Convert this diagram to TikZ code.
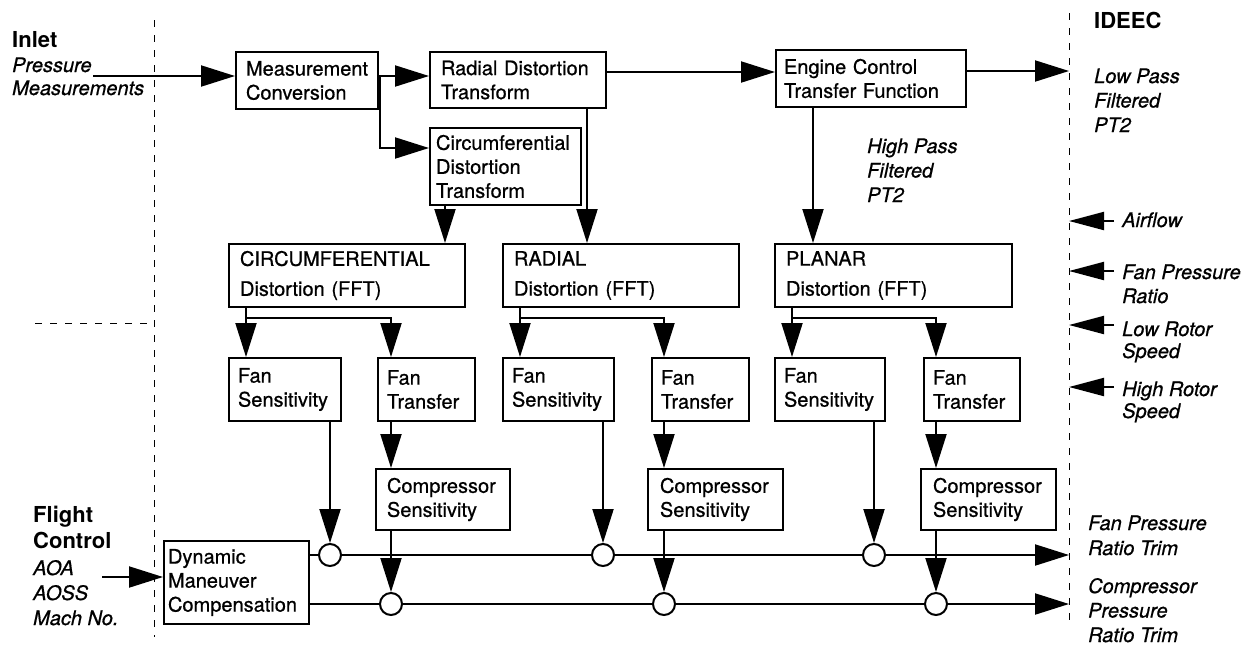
\documentclass[tikz,border=0pt]{standalone}
\usepackage{fontspec}
\setmainfont{TeX Gyre Heros}[UprightFeatures={FakeBold=0.7}, ItalicFeatures={FakeBold=0.7}]
\usetikzlibrary{arrows.meta}
\newcommand{\blk}[8]{\node[blk, minimum width=#4pt, minimum height=#5pt, text width=#6pt, inner xsep=#7pt, anchor=north west] (#1) at (#2,#3) {#8};}
\begin{document}
\begin{tikzpicture}[x=1pt,y=-1pt,
  blk/.style={draw, line width=2pt, inner ysep=0pt, align=left, font=\fontsize{20}{24}\selectfont},
  fftblk/.style={blk, font=\fontsize{20}{30}\selectfont},
  arr/.style={line width=2pt, -{Triangle[length=34pt,width=21pt]}},
  inarr/.style={line width=2pt, -{Triangle[length=35pt,width=18pt]}},
  ln/.style={line width=2pt},
  sum/.style={circle, draw, line width=2pt, fill=white, minimum size=22pt, inner sep=0pt},
  bnd/.style={line width=1pt, dash pattern=on 7pt off 8pt},
  hd/.style={font=\fontsize{22}{26}\selectfont\bfseries, anchor=base west, align=left, inner sep=0pt},
  lab/.style={font=\fontsize{20}{24.5}\selectfont\itshape, anchor=base west, align=left, inner sep=0pt}]
\fill[white] (0,0) rectangle (1257,646);
\useasboundingbox (0,0) rectangle (1257,646);

% boundaries
\draw[bnd] (154,20) -- (154,637);
\draw[bnd] (1069,13) -- (1069,623);
\draw[bnd] (35,323) -- (154,323);

% boxes
\blk{meas}{235}{51}{142}{57}{122}{10}{Measurement\\Conversion}
\blk{radtr}{429}{51}{176}{56}{154}{11}{Radial Distortion\\Transform}
\blk{circtr}{429}{127}{151}{77}{139}{6}{Circumferential\\Distortion\\Transform}
\blk{engine}{775}{49}{190}{57}{174}{8}{Engine Control\\Transfer Function}
\node[fftblk, minimum width=236pt, minimum height=63pt, text width=214pt, inner xsep=11pt, anchor=north west] (cfft) at (228,243) {CIRCUMFERENTIAL\\Distortion (FFT)};
\node[fftblk, minimum width=236pt, minimum height=63pt, text width=214pt, inner xsep=11pt, anchor=north west] (rfft) at (502,243) {RADIAL\\Distortion (FFT)};
\node[fftblk, minimum width=237pt, minimum height=63pt, text width=215pt, inner xsep=11pt, anchor=north west] (pfft) at (774,243) {PLANAR\\Distortion (FFT)};
\blk{fs1}{228}{357}{112}{63}{94}{9}{Fan\\Sensitivity}
\blk{ft1}{377}{357}{97}{63}{79}{9}{Fan\\Transfer}
\blk{fs2}{502}{357}{111}{63}{93}{9}{Fan\\Sensitivity}
\blk{ft2}{651}{357}{97}{63}{79}{9}{Fan\\Transfer}
\blk{fs3}{774}{357}{110}{63}{92}{9}{Fan\\Sensitivity}
\blk{ft3}{923}{357}{96}{63}{78}{9}{Fan\\Transfer}
\blk{cs1}{375}{468}{134}{61}{112}{11}{Compressor\\Sensitivity}
\blk{cs2}{647}{468}{135}{61}{111}{12}{Compressor\\Sensitivity}
\blk{cs3}{920}{468}{135}{61}{111}{12}{Compressor\\Sensitivity}
\blk{dyn}{163}{540}{145}{83}{137}{4}{Dynamic\\Maneuver\\Compensation}

% summing junctions
\node[sum] (ct1) at (330,555) {};
\node[sum] (ct2) at (603,555) {};
\node[sum] (ct3) at (874,555) {};
\node[sum] (cb1) at (391,604) {};
\node[sum] (cb2) at (664,604) {};
\node[sum] (cb3) at (936,604) {};

% helper coordinates
\coordinate (inl) at (93,76);
\coordinate (m1) at (380,76);
\coordinate (b2) at (0,148);
\coordinate (e1) at (0,72);
\coordinate (eo) at (1069,71);
\coordinate (k1) at (445,0);
\coordinate (k2) at (587,0);
\coordinate (k3) at (813,0);
\coordinate (j1) at (246,318);
\coordinate (j2) at (520,318);
\coordinate (j3) at (792,318);
\coordinate (fc) at (102,577);
\coordinate (o1) at (1069,555);
\coordinate (o2) at (1069,604);

% top connectors
\draw[arr] (inl) -- (meas.west |- inl);
\draw[arr] (meas.east |- m1) -- (radtr.west |- m1);
\draw[arr] (m1) |- (circtr.west |- b2);
\draw[arr] (radtr.east |- e1) -- (engine.west |- e1);
\draw[arr] (engine.east |- eo) -- (eo);
\draw[arr] (circtr.south -| k1) -- (cfft.north -| k1);
\draw[arr] (radtr.south -| k2) -- (rfft.north -| k2);
\draw[arr] (engine.south -| k3) -- (pfft.north -| k3);

% FFT branches
\draw[arr] (cfft.south -| j1) -- (fs1.north -| j1);
\draw[arr] (j1) -| (ft1.north -| cb1);
\draw[arr] (rfft.south -| j2) -- (fs2.north -| j2);
\draw[arr] (j2) -| (ft2.north -| cb2);
\draw[arr] (pfft.south -| j3) -- (fs3.north -| j3);
\draw[arr] (j3) -| (ft3.north -| cb3);

% fan sensitivity to top junctions
\draw[arr] (fs1.south -| ct1) -- (ct1);
\draw[arr] (fs2.south -| ct2) -- (ct2);
\draw[arr] (fs3.south -| ct3) -- (ct3);

% fan transfer to compressor sensitivity to bottom junctions
\draw[arr] (ft1.south -| cb1) -- (cs1.north -| cb1);
\draw[arr] (ft2.south -| cb2) -- (cs2.north -| cb2);
\draw[arr] (ft3.south -| cb3) -- (cs3.north -| cb3);
\draw[arr] (cs1.south -| cb1) -- (cb1);
\draw[arr] (cs2.south -| cb2) -- (cb2);
\draw[arr] (cs3.south -| cb3) -- (cb3);

% trim lines
\draw[ln] (dyn.east |- ct1) -- (ct1);
\draw[ln] (ct1) -- (ct2);
\draw[ln] (ct2) -- (ct3);
\draw[arr] (ct3) -- (o1);
\draw[ln] (dyn.east |- cb1) -- (cb1);
\draw[ln] (cb1) -- (cb2);
\draw[ln] (cb2) -- (cb3);
\draw[arr] (cb3) -- (o2);

% flight control input
\draw[arr] (fc) -- (dyn.west |- fc);

% IDEEC inputs
\coordinate (a1) at (1114,221);
\coordinate (a2) at (1114,271);
\coordinate (a3) at (1114,325);
\coordinate (a4) at (1114,387);
\draw[inarr] (a1) -- (a1 -| eo);
\draw[inarr] (a2) -- (a2 -| eo);
\draw[inarr] (a3) -- (a3 -| eo);
\draw[inarr] (a4) -- (a4 -| eo);

% labels (anchored at the baseline of the last line)
\node[hd] (inlet) at (12,47) {Inlet};
\node[lab, font=\fontsize{20}{23}\selectfont\itshape] (pm) at (12,95) {Pressure\\Measurements};
\node[hd] (ideec) at (1094,28) {IDEEC};
\node[lab] (lp) at (1094,132) {Low Pass\\Filtered\\PT2};
\node[lab] (hp) at (867,202) {High Pass\\Filtered\\PT2};
\node[lab] (af) at (1122,227) {Airflow};
\node[lab, font=\fontsize{20}{24}\selectfont\itshape] (fpr) at (1122,303) {Fan Pressure\\Ratio};
\node[lab, font=\fontsize{20}{22}\selectfont\itshape] (lrs) at (1122,358) {Low Rotor\\Speed};
\node[lab, font=\fontsize{20}{22}\selectfont\itshape] (hrs) at (1122,418) {High Rotor\\Speed};
\node[hd] (flc) at (33,548) {Flight\\Control};
\node[lab, font=\fontsize{20}{25}\selectfont\itshape] (aoa) at (33,625) {AOA\\AOSS\\Mach No.};
\node[lab, font=\fontsize{20}{25}\selectfont\itshape] (fprt) at (1088,555) {Fan Pressure\\Ratio Trim};
\node[lab, font=\fontsize{20}{24.5}\selectfont\itshape] (cprt) at (1088,642) {Compressor\\Pressure\\Ratio Trim};
\end{tikzpicture}
\end{document}
